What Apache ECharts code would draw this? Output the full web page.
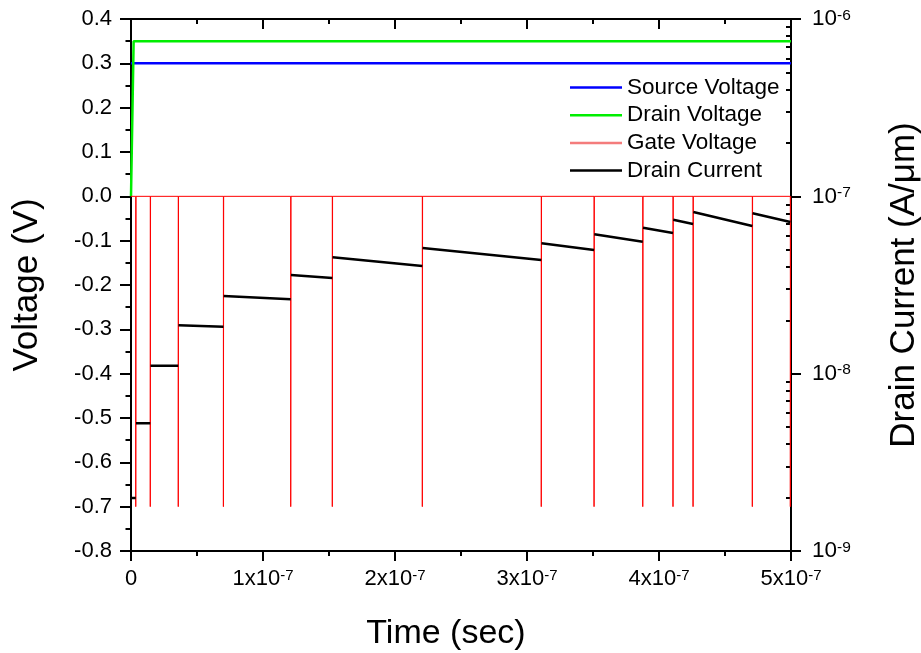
<!DOCTYPE html>
<html>
<head>
<meta charset="utf-8">
<script src="https://cdn.jsdelivr.net/npm/echarts@6/dist/echarts.min.js"></script>
<style>
html,body{margin:0;padding:0;background:#fff;}
#chart{width:921px;height:653px;}
</style>
</head>
<body>
<div id="chart"></div>
<script>
// ---- data ----
const sourceTime = [0, 5e-7];
const sourceVolt = [0.3, 0.3];
const drainTime = [0, 2e-9, 5e-7];
const drainVolt = [0, 0.35, 0.35];
// gate pulse times (s), pulse low level (V), pulse width (s)
const gatePulseTimes = [3.6e-9, 1.46e-8, 3.58e-8, 7.0e-8, 1.21e-7, 1.525e-7, 2.207e-7,
  3.108e-7, 3.508e-7, 3.877e-7, 4.106e-7, 4.258e-7, 4.707e-7, 4.995e-7];
const gateHigh = 0;
const gateLow = -0.7;
const gatePulseWidth = 2e-10;
// drain current (A/um) at start and end of each segment between pulses
const currentStart = [1.99e-9, 5.25e-9, 1.109e-8, 1.874e-8, 2.742e-8, 3.601e-8, 4.532e-8,
  5.113e-8, 5.435e-8, 6.107e-8, 6.653e-8, 7.384e-8, 8.161e-8, 8.025e-8];
const currentEnd = [1.99e-9, 5.25e-9, 1.109e-8, 1.841e-8, 2.627e-8, 3.464e-8, 4.048e-8,
  4.375e-8, 4.983e-8, 5.549e-8, 6.212e-8, 6.982e-8, 6.802e-8, 7.166e-8];
const minorMultipliers = [2, 3, 4, 5, 6, 7, 8, 9];
const decades = [-9, -8, -7];

// ---- build series data ----
const sourceData = sourceTime.map((t, i) => [t, sourceVolt[i]]);
const drainData = drainTime.map((t, i) => [t, drainVolt[i]]);
const gateData = [[0, gateHigh]];
gatePulseTimes.forEach(t => {
  gateData.push([t, gateHigh], [t, gateLow], [t + gatePulseWidth, gateLow], [t + gatePulseWidth, gateHigh]);
});
gateData.push([5e-7, gateHigh]);
const currentData = [];
currentStart.forEach((v, i) => {
  const t0 = i === 0 ? 0 : gatePulseTimes[i - 1] + gatePulseWidth;
  const t1 = gatePulseTimes[i];
  currentData.push([t0, v], [t1, currentEnd[i]], [t1, '-']);
});
const minorLogTicks = [];
decades.forEach(d => minorMultipliers.forEach(m => minorLogTicks.push(Math.log10(m * Math.pow(10, d)))));

const FONT = 'Liberation Sans, Arial, sans-serif';
const black = '#000';
const axisLineStyle = { color: black, width: 2 };
const lineIcon = 'path://M0 0H52V2.5H0Z';
const gridBox = { left: 131, right: 130, top: 19, bottom: 102, outerBoundsMode: 'none', containLabel: false };

const chart = echarts.init(document.getElementById('chart'), null, { renderer: 'canvas' });
chart.setOption({
  backgroundColor: '#fff',
  animation: false,
  textStyle: { fontFamily: FONT, color: black },
  grid: [Object.assign({}, gridBox), Object.assign({}, gridBox)],
  legend: {
    orient: 'vertical',
    left: 570,
    top: 76,
    padding: 0,
    itemWidth: 52,
    itemHeight: 23,
    itemGap: 4.7,
    icon: lineIcon,
    symbolKeepAspect: true,
    textStyle: { fontFamily: FONT, fontSize: 22.5, lineHeight: 23, color: black },
    data: [
      { name: 'Source Voltage' },
      { name: 'Drain Voltage' },
      { name: 'Gate Voltage', itemStyle: { color: '#f47c7c' } },
      { name: 'Drain Current' }
    ]
  },
  xAxis: [{
    type: 'value',
    gridIndex: 0,
    min: 0, max: 5e-7, interval: 1e-7,
    position: 'bottom',
    name: 'Time (sec)',
    nameLocation: 'middle',
    nameGap: 66,
    nameTextStyle: { fontFamily: FONT, fontSize: 34, color: black, padding: [0, 30, 0, 0] },
    axisLine: { show: true, onZero: false, lineStyle: axisLineStyle },
    axisTick: { show: true, inside: false, length: 10, lineStyle: { width: 2, color: black } },
    minorTick: { show: true, splitNumber: 2, length: 5, lineStyle: { width: 2, color: black } },
    splitLine: { show: false },
    axisLabel: {
      margin: 17,
      formatter: v => {
        const n = Math.round(v / 1e-7);
        return n === 0 ? '{b|0}' : '{b|' + n + 'x10}{s|-7}';
      },
      rich: {
        b: { fontFamily: FONT, fontSize: 22, color: black },
        s: { fontFamily: FONT, fontSize: 15, color: black, verticalAlign: 'top' }
      }
    }
  }, {
    type: 'value',
    gridIndex: 0,
    min: 0, max: 5e-7, interval: 1e-7,
    position: 'top',
    axisLine: { show: true, onZero: false, lineStyle: axisLineStyle },
    axisTick: { show: true, inside: true, length: 10, lineStyle: { width: 2, color: black } },
    minorTick: { show: true, splitNumber: 2, length: 5, lineStyle: { width: 2, color: black } },
    splitLine: { show: false },
    axisLabel: { show: false }
  }, {
    type: 'value',
    gridIndex: 1,
    min: 0, max: 1,
    show: false
  }],
  yAxis: [{
    type: 'value',
    gridIndex: 0,
    min: -0.8, max: 0.4, interval: 0.1,
    position: 'left',
    name: 'Voltage (V)',
    nameLocation: 'middle',
    nameGap: 86,
    nameRotate: 90,
    nameTextStyle: { fontFamily: FONT, fontSize: 35, color: black },
    axisLine: { show: true, onZero: false, lineStyle: axisLineStyle },
    axisTick: { show: true, inside: false, length: 11, lineStyle: { width: 2, color: black } },
    minorTick: { show: true, splitNumber: 2, length: 5.5, lineStyle: { width: 2, color: black } },
    splitLine: { show: false },
    axisLabel: {
      margin: 19,
      fontFamily: FONT, fontSize: 22, color: black,
      formatter: v => (Math.round(v * 10) / 10).toFixed(1)
    }
  }, {
    type: 'log',
    gridIndex: 0,
    logBase: 10,
    min: 1e-9, max: 1e-6,
    position: 'right',
    name: 'Drain Current (A/\u03bcm)',
    nameLocation: 'middle',
    nameGap: 96,
    nameRotate: 90,
    nameTextStyle: { fontFamily: FONT, fontSize: 35, color: black },
    axisLine: { show: true, onZero: false, lineStyle: axisLineStyle },
    axisTick: { show: true, inside: false, length: 10, lineStyle: { width: 2, color: black } },
    minorTick: { show: false },
    splitLine: { show: false },
    axisLabel: {
      margin: 21,
      formatter: v => '{b|10}{s|' + Math.round(Math.log10(v)) + '}',
      rich: {
        b: { fontFamily: FONT, fontSize: 22.5, color: black },
        s: { fontFamily: FONT, fontSize: 15.5, color: black, verticalAlign: 'top' }
      }
    }
  }, {
    type: 'value',
    gridIndex: 1,
    min: -9, max: -6,
    position: 'left',
    offset: -660,
    axisLine: { show: false },
    axisTick: { show: true, inside: false, length: 5, customValues: minorLogTicks, lineStyle: { width: 2, color: '#000' } },
    axisLabel: { show: false },
    splitLine: { show: false }
  }],
  series: [{
    name: 'Source Voltage', type: 'line', xAxisIndex: 0, yAxisIndex: 0,
    data: sourceData, showSymbol: false, symbol: 'none',
    lineStyle: { color: '#0000ff', width: 2.5 }, itemStyle: { color: '#0000ff' }
  }, {
    name: 'Drain Voltage', type: 'line', xAxisIndex: 0, yAxisIndex: 0,
    data: drainData, showSymbol: false, symbol: 'none',
    lineStyle: { color: '#00ee00', width: 2.5 }, itemStyle: { color: '#00ee00' }
  }, {
    name: 'Gate Voltage', type: 'line', xAxisIndex: 0, yAxisIndex: 0,
    data: gateData, showSymbol: false, symbol: 'none',
    lineStyle: { color: '#ff0000', width: 1 }, itemStyle: { color: '#ff0000' }
  }, {
    name: 'Drain Current', type: 'line', xAxisIndex: 0, yAxisIndex: 1,
    data: currentData, showSymbol: false, symbol: 'none', connectNulls: false,
    lineStyle: { color: '#000000', width: 2.5 }, itemStyle: { color: '#000000' }
  }]
});
</script>
</body>
</html>
